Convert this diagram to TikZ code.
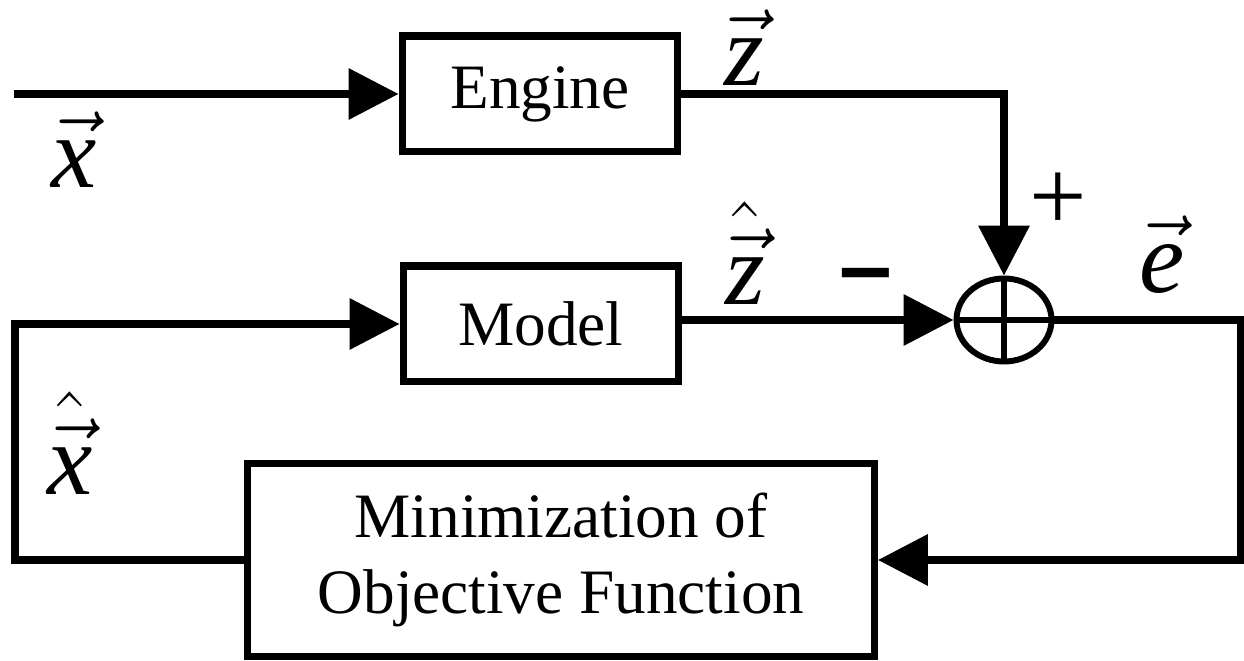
\documentclass[tikz,border=0pt]{standalone}
\usepackage{fix-cm}
\usepackage{fontspec}
\setmainfont{Liberation Serif}
\newfontfamily\barfont{Liberation Sans Bold}
\usetikzlibrary{arrows.meta,shapes.geometric}
\tikzset{
>={Triangle[length=1cm,width=1cm]},
  block/.style={
    rectangle,
    draw=black, line width=4pt,
    minimum width=5.52cm,
    minimum height=2.32cm,
    align=center,
    font=\fontsize{36}{43}\selectfont},
  summer/.style={
    ellipse,
    draw=black, line width=3.4pt,
    inner sep=0pt,
    minimum width=1.9cm,
    minimum height=1.66cm},
  line/.style={draw, line width=4pt},
  sym/.style={font=\fontsize{58}{64}\selectfont, inner sep=0pt},
}

\begin{document}
\begin{tikzpicture}[x=0.02cm,y=-0.02cm]
  \useasboundingbox (0,0) rectangle (1244,661);
     \node[block] (engine) at (540,94) {Engine};
     \node[block] (model) at (541,324) {Model};
     \node[block, minimum width=12.54cm, minimum height=3.86cm] (minim) at (561,560) {Minimization of\\Objective Function};
     \node[summer] (sum) at (1004,320) {};
     \draw[line width=3pt] (sum.north) -- (sum.south) (sum.west) -- (sum.east);
     \coordinate (in) at (14,94);
     \coordinate (eturn) at (1240,320);
     \coordinate (xturn) at (15,440);
     % connectors
     \draw[line,->] (in) -- (engine.west);
     \draw[line,->] (engine.east) -| (sum.north);
     \draw[line,->] (model.east |- sum.west) -- (sum.west);
     \draw[line,->] (sum.east) -- (eturn) |- (minim.east);
     \draw[line,->] (minim.west) -| (xturn) |- (model.west);
     % labels
     \node[sym] (xlab) at (74,150) {$\vec{\textit{x}}$};
     \node[sym] (zlab) at (744,48) {$\vec{\textit{z}}$};
     \node[sym] (zhatlab) at (745,253) {$\hat{\vec{\textit{z}}}$};
     \node[sym] (elab) at (1162,255) {$\vec{\textit{e}}$};
     \node[sym] (xhatlab) at (70,443) {$\hat{\vec{\textit{x}}}$};
     \node[sym] (plus) at (1058,202) {+};
     \node[sym, font=\barfont\fontsize{54}{60}\selectfont] (minus) at (866,283) {–};
  \end{tikzpicture}
\end{document}
